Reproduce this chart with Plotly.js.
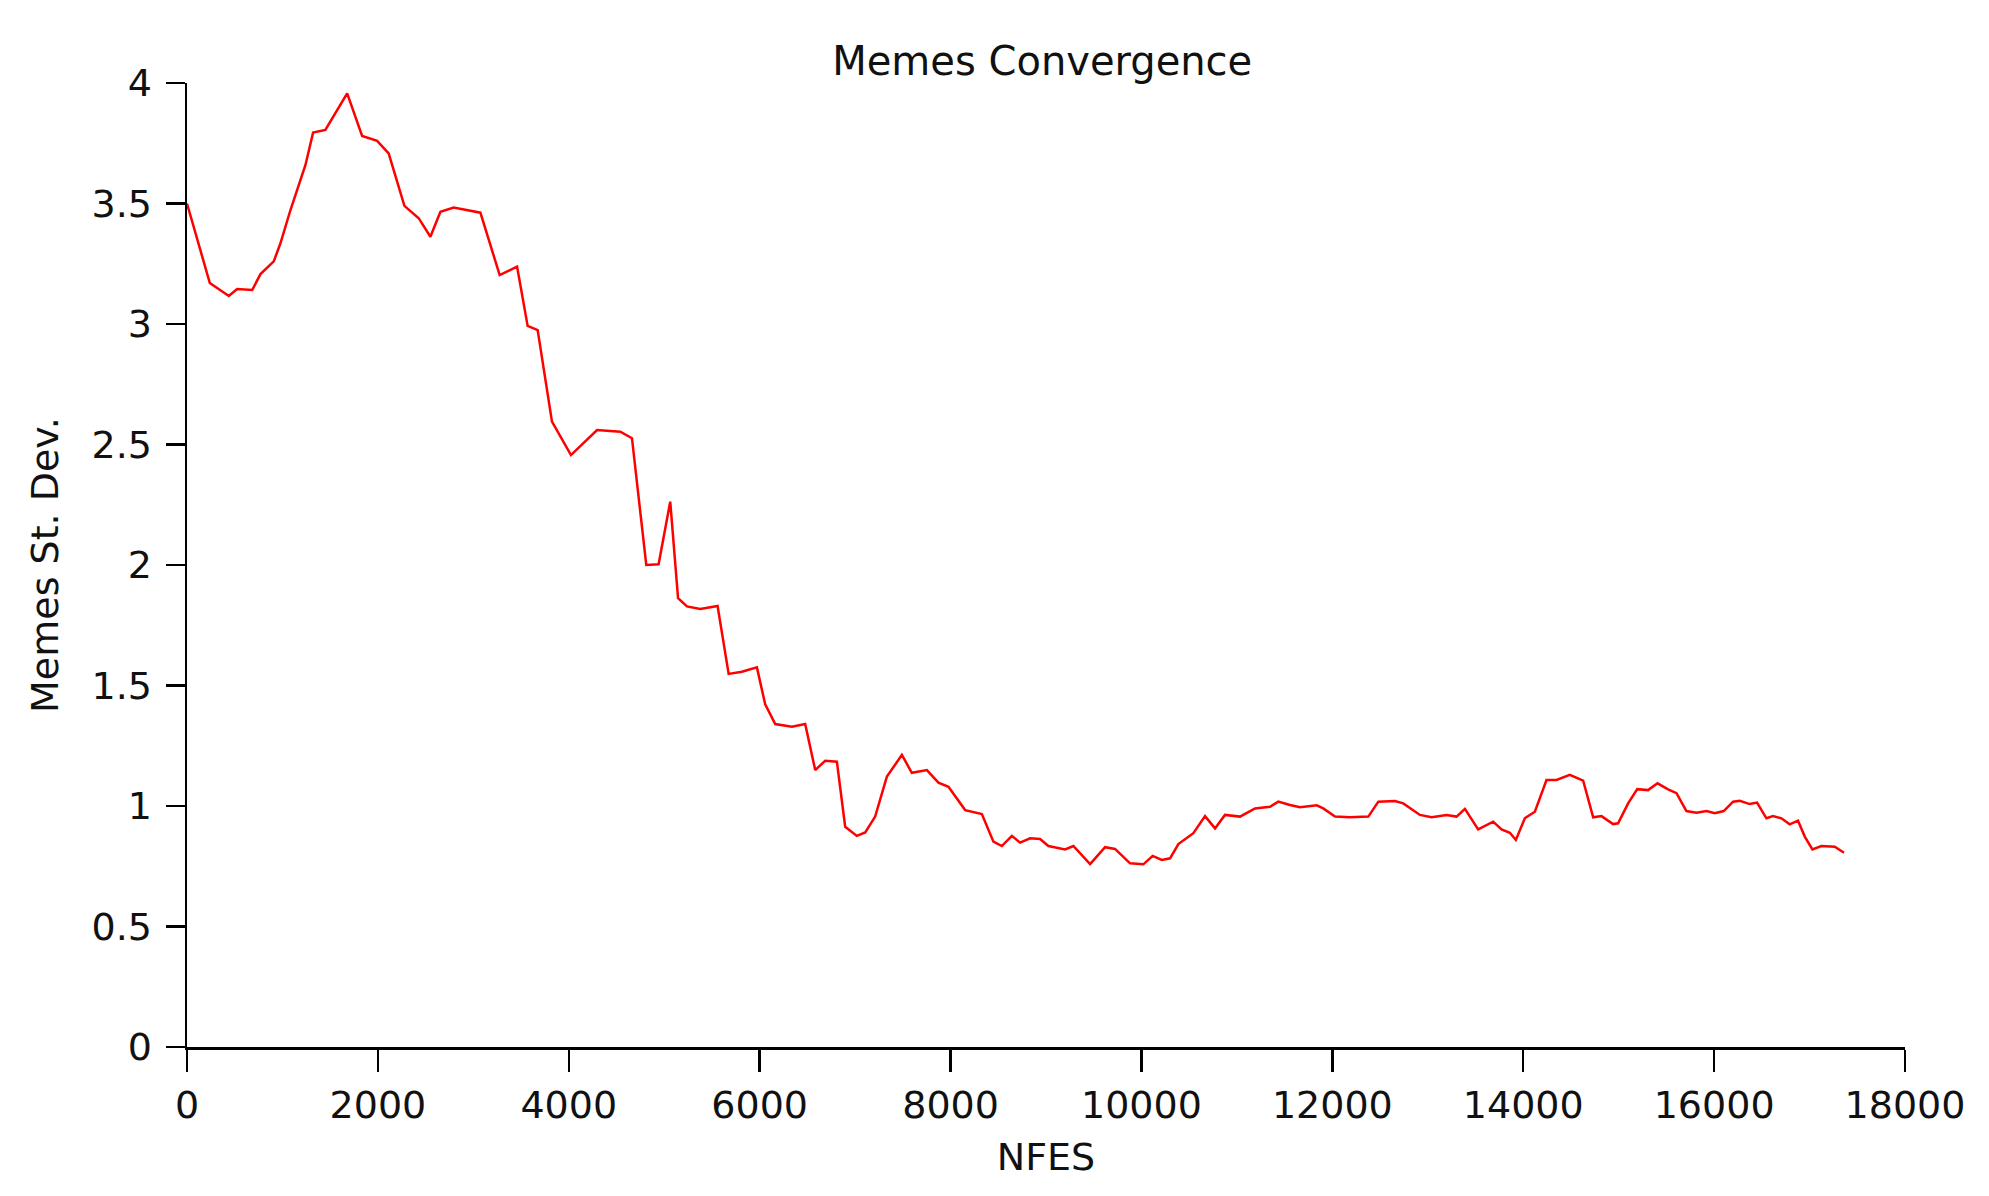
<!DOCTYPE html>
<html>
<head>
<meta charset="utf-8">
<script src="https://cdn.plot.ly/plotly-3.0.1.min.js"></script>
<style>html,body{margin:0;padding:0;background:#fff;}#chart{width:1989px;height:1196px;}</style>
</head>
<body>
<div id="chart"></div>
<script>
const nfes = [0,239,438,525,683,770,909,979,1084,1241,1321,1450,1678,1835,1992,2113,2278,2428,2550,2655,2794,3074,3276,3458,3569,3674,3824,4023,4296,4540,4662,4812,4941,5063,5145,5238,5378,5559,5675,5814,5971,6058,6163,6338,6477,6582,6687,6809,6896,7018,7106,7210,7333,7490,7594,7752,7873,7978,8153,8328,8449,8537,8642,8729,8833,8938,9025,9200,9287,9462,9619,9723,9881,10020,10118,10213,10300,10387,10544,10666,10771,10875,11033,11190,11347,11434,11556,11661,11836,11905,12028,12185,12377,12482,12656,12743,12918,13040,13197,13302,13389,13528,13685,13773,13860,13923,14017,14122,14244,14349,14488,14628,14733,14820,14942,14994,15099,15195,15308,15407,15518,15606,15710,15815,15920,16007,16101,16199,16269,16373,16450,16548,16617,16705,16792,16879,16950,17030,17124,17264,17361];
const stdev = [3.50,3.17,3.116,3.145,3.141,3.207,3.26,3.335,3.473,3.66,3.794,3.805,3.957,3.78,3.76,3.708,3.49,3.439,3.362,3.466,3.483,3.462,3.203,3.238,2.992,2.975,2.595,2.456,2.56,2.553,2.526,2.0,2.003,2.263,1.862,1.828,1.817,1.83,1.548,1.557,1.575,1.422,1.34,1.329,1.34,1.149,1.188,1.184,0.914,0.876,0.89,0.956,1.122,1.212,1.138,1.149,1.097,1.08,0.983,0.967,0.852,0.834,0.876,0.848,0.866,0.863,0.834,0.82,0.834,0.759,0.829,0.822,0.762,0.758,0.793,0.776,0.783,0.842,0.887,0.958,0.907,0.963,0.956,0.99,0.997,1.018,1.004,0.995,1.003,0.99,0.956,0.953,0.956,1.018,1.021,1.011,0.963,0.953,0.963,0.956,0.988,0.903,0.935,0.903,0.889,0.859,0.949,0.976,1.108,1.108,1.129,1.105,0.953,0.958,0.925,0.928,1.011,1.07,1.066,1.094,1.069,1.053,0.979,0.972,0.979,0.97,0.979,1.018,1.022,1.008,1.014,0.949,0.958,0.949,0.924,0.939,0.873,0.82,0.834,0.831,0.806];
const xTicks = [0,2000,4000,6000,8000,10000,12000,14000,16000,18000];
const yTicks = [0,0.5,1,1.5,2,2.5,3,3.5,4];

const font = {family: 'DejaVu Sans, Verdana, sans-serif', size: 38, color: '#111'};
const trace = {
  x: nfes, y: stdev, type: 'scatter', mode: 'lines',
  line: {color: '#ff0000', width: 2.5}, hoverinfo: 'skip'
};
const layout = {
  width: 1989, height: 1196,
  paper_bgcolor: '#fff', plot_bgcolor: '#fff',
  margin: {l: 187, r: 84, t: 83, b: 149, pad: 0},
  font: font,
  showlegend: false,
  title: {text: 'Memes Convergence', font: Object.assign({}, font, {size: 40}), x: 0.524, xanchor: 'center', y: 0.949, yanchor: 'middle'},
  xaxis: {
    range: [0, 18000], tickvals: xTicks, ticktext: xTicks.map(String),
    showgrid: false, zeroline: false, showline: true, linecolor: '#000', linewidth: 3,
    ticks: 'outside', ticklen: 22, tickwidth: 2.5, tickcolor: '#000',
    tickfont: font, ticklabelstandoff: 0,
    title: {text: 'NFES', font: font, standoff: 18}
  },
  yaxis: {
    range: [0, 4], tickvals: yTicks, ticktext: yTicks.map(String),
    showgrid: false, zeroline: false, showline: true, linecolor: '#000', linewidth: 2.5,
    ticks: 'outside', ticklen: 19, tickwidth: 2.5, tickcolor: '#000',
    tickfont: font, ticklabelstandoff: 6,
    title: {text: 'Memes St. Dev.', font: font, standoff: 21}
  }
};
Plotly.newPlot('chart', [trace], layout, {staticPlot: true, displayModeBar: false});
</script>
</body>
</html>
